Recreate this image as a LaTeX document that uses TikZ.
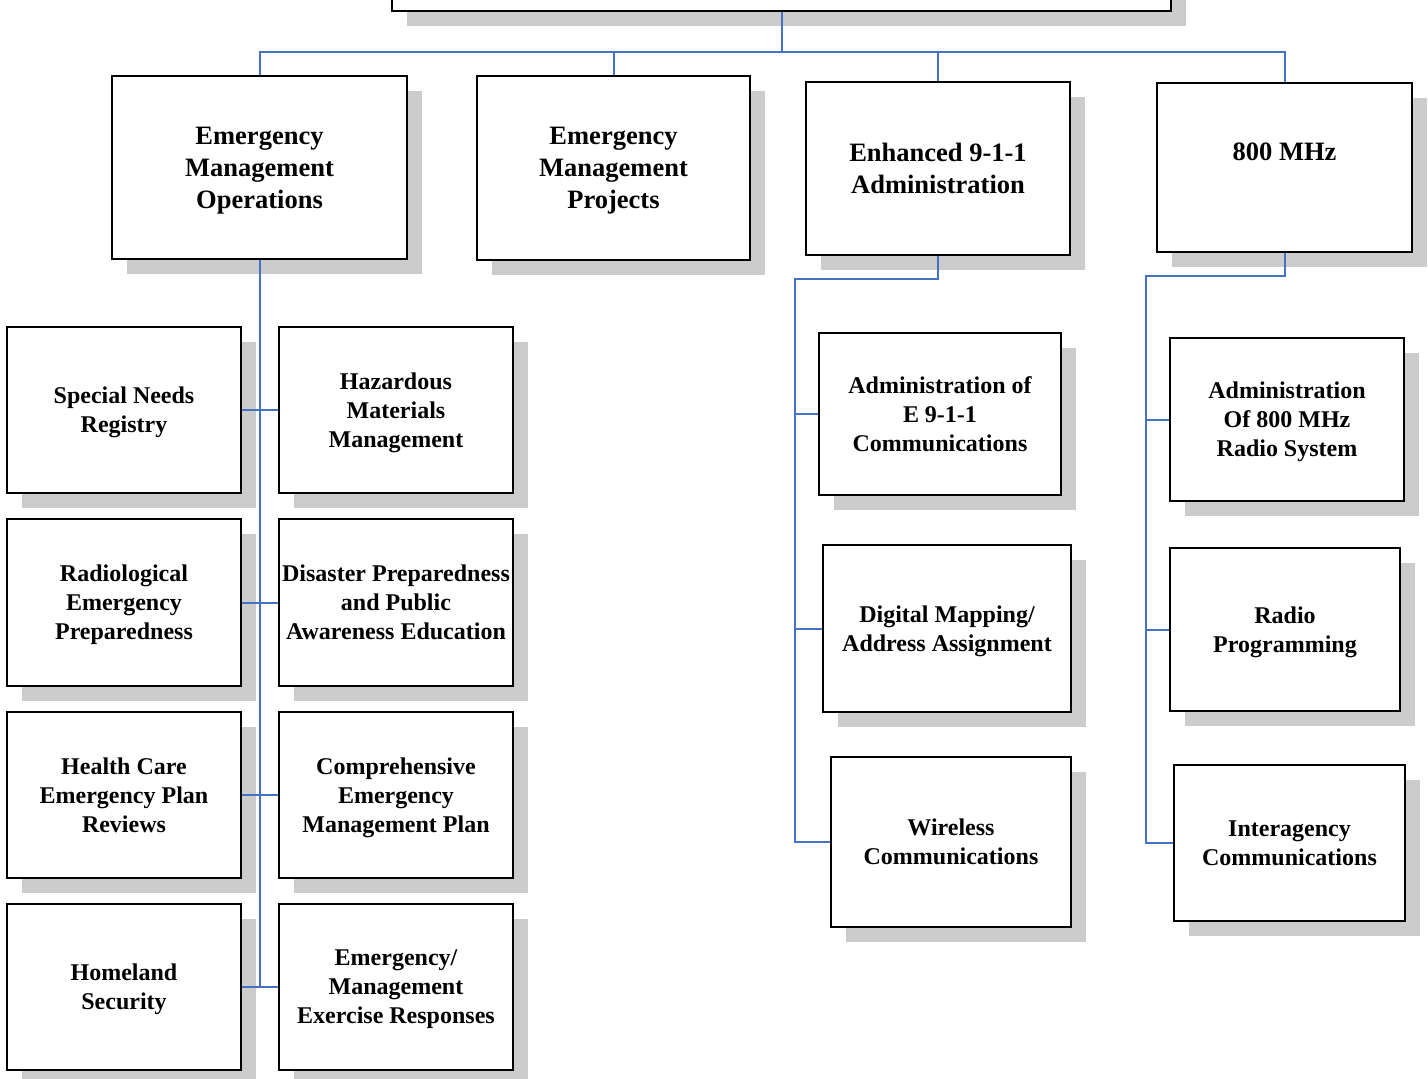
\documentclass[tikz,border=0pt]{standalone}
\usepackage{fontspec}
\setmainfont{Liberation Serif}
\usetikzlibrary{shadows}
\definecolor{connblue}{HTML}{4472C4}
\definecolor{shadowgray}{HTML}{CCCCCC}
\begin{document}
\begin{tikzpicture}[x=1pt,y=-1pt,
  box/.style={draw=black,line width=2pt,fill=white,inner sep=0pt,align=center,text depth=0pt,
    drop shadow={shadow xshift=14.5pt,shadow yshift=-14.5pt,fill=shadowgray,opacity=1}},
  bigtxt/.style={font=\fontsize{26.5}{32}\selectfont\bfseries},
  smalltxt/.style={font=\fontsize{24}{29}\selectfont\bfseries},
  conn/.style={draw=connblue,line width=2pt}]
\useasboundingbox (0,0) rectangle (1428,1079);
% top
\node[box,minimum width=779pt,minimum height=71pt] (top) at (781.5,-24.5) {};
% level 2
\node[box,bigtxt,minimum width=295pt,minimum height=183pt] (emo) at (259.5,167.5) {Emergency\\Management\\Operations};
\node[box,bigtxt,minimum width=273pt,minimum height=184pt] (emp) at (613.5,168) {Emergency\\Management\\Projects};
\node[box,bigtxt,minimum width=264pt,minimum height=173pt] (e911) at (938,168.5) {Enhanced 9-1-1\\Administration};
\node[box,bigtxt,minimum width=255pt,minimum height=169pt] (e800) at (1284.5,167.5) {800 MHz\\\mbox{}};
% left column
\node[box,smalltxt,minimum width=234pt,minimum height=166pt] (sn) at (124,410) {Special Needs\\Registry};
\node[box,smalltxt,minimum width=234pt,minimum height=166pt] (haz) at (396,410) {Hazardous\\Materials\\Management};
\node[box,smalltxt,minimum width=234pt,minimum height=167pt] (rad) at (124,602.5) {Radiological\\Emergency\\Preparedness};
\node[box,smalltxt,minimum width=234pt,minimum height=167pt] (dis) at (396,602.5) {Disaster Preparedness\\and Public\\Awareness Education};
\node[box,smalltxt,minimum width=234pt,minimum height=166pt] (hc) at (124,795) {Health Care\\Emergency Plan\\Reviews};
\node[box,smalltxt,minimum width=234pt,minimum height=166pt] (cmp) at (396,795) {Comprehensive\\Emergency\\Management Plan};
\node[box,smalltxt,minimum width=234pt,minimum height=166pt] (hl) at (124,987) {Homeland\\Security};
\node[box,smalltxt,minimum width=234pt,minimum height=166pt] (ex) at (396,987) {Emergency/\\Management\\Exercise Responses};
% E911 column
\node[box,smalltxt,minimum width=242pt,minimum height=162pt] (a9) at (940,414) {Administration of\\E 9-1-1\\Communications};
\node[box,smalltxt,minimum width=248pt,minimum height=167pt] (dm) at (947,628.5) {Digital Mapping/\\Address Assignment};
\node[box,smalltxt,minimum width=240pt,minimum height=170pt] (wl) at (951,842) {Wireless\\Communications};
% 800 column
\node[box,smalltxt,minimum width=234pt,minimum height=163pt] (a8) at (1287,419.5) {Administration\\Of 800 MHz\\Radio System};
\node[box,smalltxt,minimum width=230pt,minimum height=163pt] (rp) at (1285,629.5) {Radio\\Programming};
\node[box,smalltxt,minimum width=231pt,minimum height=156pt] (ia) at (1289.5,843) {Interagency\\Communications};
% connectors
\coordinate (bus) at (781.5,52);
\draw[conn] (top.south) -- (bus);
\draw[conn] (emo.north) -- (emo.north |- bus) -- (e800.north |- bus) -- (e800.north);
\draw[conn] (emp.north) -- (emp.north |- bus);
\draw[conn] (e911.north) -- (e911.north |- bus);
\draw[conn] (emo.south) -- (emo.south |- hl.east);
\draw[conn] (sn.east) -- (haz.west);
\draw[conn] (rad.east) -- (dis.west);
\draw[conn] (hc.east) -- (cmp.west);
\draw[conn] (hl.east) -- (ex.west);
\coordinate (t9) at (795,279);
\draw[conn] (e911.south) |- (t9) -- (t9 |- wl.west) -- (wl.west);
\draw[conn] (t9 |- a9.west) -- (a9.west);
\draw[conn] (t9 |- dm.west) -- (dm.west);
\coordinate (t8) at (1146,276);
\draw[conn] (e800.south) |- (t8) -- (t8 |- ia.west) -- (ia.west);
\draw[conn] (t8 |- a8.west) -- (a8.west);
\draw[conn] (t8 |- rp.west) -- (rp.west);
\end{tikzpicture}
\end{document}
